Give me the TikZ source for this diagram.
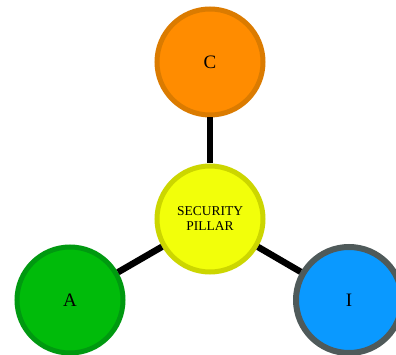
\documentclass[tikz,border=0pt]{standalone}
\usepackage{fontspec}
\setmainfont{Liberation Serif}
\definecolor{cfill}{HTML}{FF8C00}
\definecolor{cdraw}{HTML}{DB7B00}
\definecolor{sfill}{HTML}{F2FF0A}
\definecolor{sdraw}{HTML}{CCD600}
\definecolor{afill}{HTML}{00BB0A}
\definecolor{adraw}{HTML}{009910}
\definecolor{ifill}{HTML}{0A99FF}
\definecolor{idraw}{HTML}{4F5A5A}
\tikzset{
  pillar/.style={circle, minimum size=106pt, inner sep=0pt, line width=5pt, font=\fontsize{19}{21}\selectfont, align=center},
  link/.style={line width=6.5pt, black}
}
\begin{document}
\begin{tikzpicture}[x=1pt,y=-1pt]
\useasboundingbox (0,0) rectangle (396,355);
\node[pillar, fill=cfill, draw=cdraw] (c) at (210,62) {C};
\node[pillar, fill=sfill, draw=sdraw, font=\fontsize{13.5}{15}\selectfont] (s) at (210,219) {SECURITY\\PILLAR};
\node[pillar, fill=afill, draw=adraw] (a) at (70,300) {A};
\node[pillar, fill=ifill, draw=idraw, line width=6pt] (i) at (349,300) {I};
\draw[link] (c) -- (s);
\draw[link] (a) -- (s);
\draw[link] (i) -- (s);
\end{tikzpicture}
\end{document}
